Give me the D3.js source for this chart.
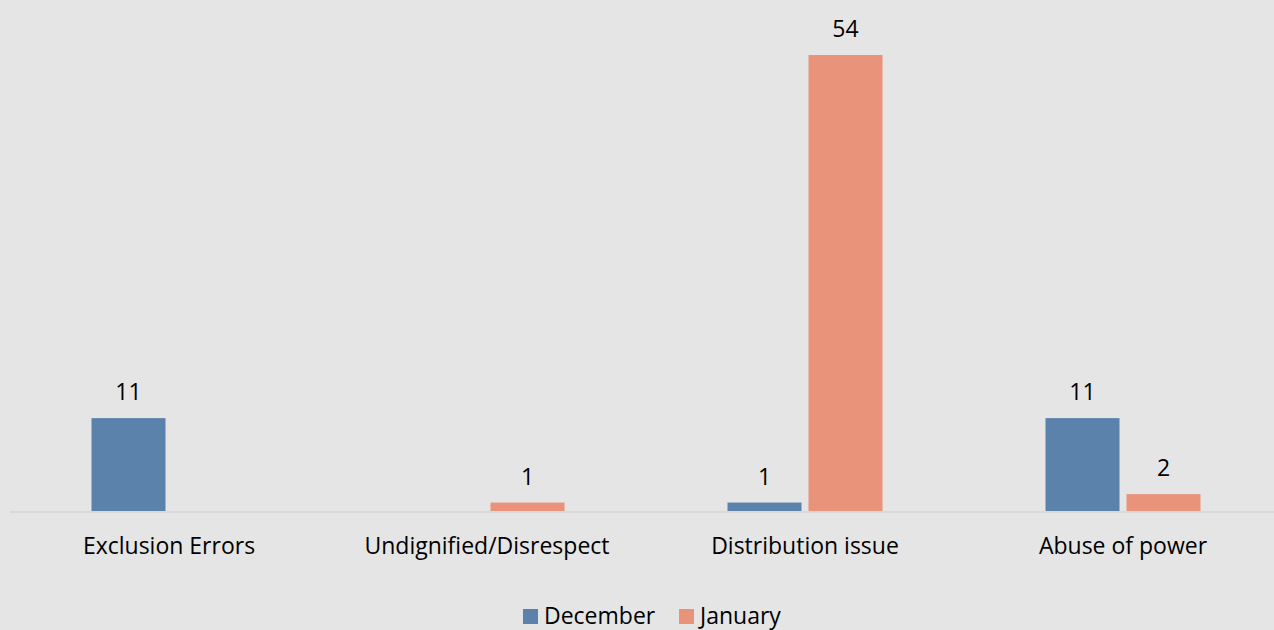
<!DOCTYPE html>
<html>
<head>
<meta charset="utf-8">
<script src="https://cdn.jsdelivr.net/npm/d3@7"></script>
<style>
  html, body { margin: 0; padding: 0; background: #e5e5e5; }
  svg { display: block; font-family: "Open Sans", sans-serif; }
</style>
</head>
<body>
<div id="chart"></div>
<script>
const categories = ["Exclusion Errors", "Undignified/Disrespect", "Distribution issue", "Abuse of power"];
const seriesNames = ["December", "January"];
const december = [11, 0, 1, 11];
const january = [0, 1, 54, 2];
const colors = ["#5b82aa", "#e8937a"];

const width = 1274, height = 630;
const margin = { top: 55, bottom: 119, left: 10, right: -8 };
const fontSize = 23;

const svg = d3.select("#chart")
  .append("svg")
  .attr("width", width)
  .attr("height", height);

svg.append("rect")
  .attr("width", width)
  .attr("height", height)
  .attr("fill", "#e5e5e5");

const x0 = d3.scaleBand()
  .domain(categories)
  .range([margin.left, width - margin.right])
  .paddingInner(0.5126)
  .paddingOuter(0.2563);

const x1 = d3.scaleBand()
  .domain(seriesNames)
  .range([0, x0.bandwidth()])
  .paddingInner(0.0864);

const y = d3.scaleLinear()
  .domain([0, 54])
  .range([height - margin.bottom, margin.top]);

const rows = categories.map((c, i) => ({
  category: c,
  values: [
    { series: "December", value: december[i], color: colors[0] },
    { series: "January", value: january[i], color: colors[1] }
  ].filter(d => d.value > 0)
}));

const groups = svg.append("g")
  .selectAll("g")
  .data(rows)
  .join("g")
  .attr("transform", d => `translate(${x0(d.category)},0)`);

groups.selectAll("rect")
  .data(d => d.values)
  .join("rect")
  .attr("x", d => x1(d.series))
  .attr("y", d => y(d.value))
  .attr("width", x1.bandwidth())
  .attr("height", d => y(0) - y(d.value))
  .attr("fill", d => d.color);

groups.selectAll("text")
  .data(d => d.values)
  .join("text")
  .attr("x", d => x1(d.series) + x1.bandwidth() / 2)
  .attr("y", d => y(d.value) - 18)
  .attr("text-anchor", "middle")
  .attr("font-size", fontSize)
  .attr("fill", "#000")
  .text(d => d.value);

// baseline
svg.append("line")
  .attr("x1", margin.left)
  .attr("x2", width - margin.right)
  .attr("y1", y(0) + 1)
  .attr("y2", y(0) + 1)
  .attr("stroke", "#d4d4d4")
  .attr("stroke-width", 1.5);

// category labels
const xAxis = svg.append("g")
  .attr("transform", `translate(0,${y(0)})`)
  .call(d3.axisBottom(x0).tickSize(0).tickPadding(27));
xAxis.select(".domain").remove();
xAxis.selectAll("text")
  .attr("font-size", fontSize)
  .attr("font-family", "Open Sans, sans-serif")
  .attr("fill", "#000");

// legend
const legend = svg.append("g")
  .attr("transform", "translate(523,609)");
const legendX = [0, 156];
seriesNames.forEach((name, i) => {
  const g = legend.append("g").attr("transform", `translate(${legendX[i]},0)`);
  g.append("rect")
    .attr("width", 15)
    .attr("height", 15)
    .attr("fill", colors[i]);
  g.append("text")
    .attr("x", 21)
    .attr("y", 15)
    .attr("font-size", fontSize)
    .attr("fill", "#000")
    .text(name);
});
</script>
</body>
</html>
